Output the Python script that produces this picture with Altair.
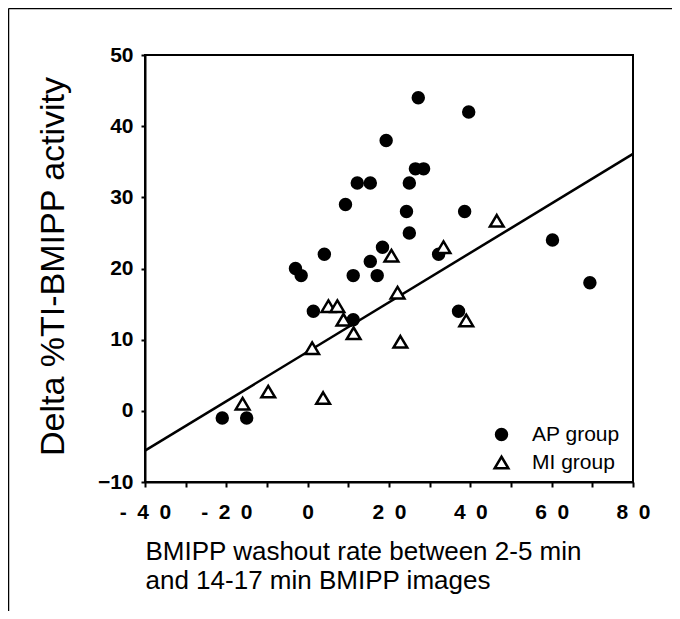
import altair as alt
import pandas as pd

# AP group (filled circles)
ap_x = [-21, -15, -3, -1.6, 4.1, 1.4, 9.3, 12.2, 15.4, 11.2, 15.4, 17.1, 11.2,
        19.3, 18.4, 27.2, 39.6, 26.5, 28.5, 25, 24.3, 38.6, 25, 32.2, 60.2, 69.4, 37.1]
ap_y = [-1, -1, 20, 19, 22, 14, 29, 32, 32, 19, 21, 19, 12.8,
        38, 23, 44, 42, 34, 34, 32, 28, 28, 25, 22, 24, 18, 14]
# MI group (open triangles)
mi_x = [-16, -9.7, 1.1, 3.8, 5.1, 7.3, 8.8, 11.3, 22.1, 22.8, 46.5, 33.4, 20.6, 39]
mi_y = [1, 2.7, 8.8, 1.8, 14.7, 14.7, 12.8, 10.9, 16.6, 9.7, 26.7, 23, 21.8, 12.7]
# regression line end points
fit_x = [-40, 80]
fit_y = [-5.6, 36.1]

groups = ["AP group", "MI group"]
x_ticks = [-40, -30, -20, -10, 0, 10, 20, 30, 40, 50, 60, 70, 80]
y_ticks = [-10, -5, 0, 5, 10, 15, 20, 25, 30, 35, 40, 45, 50]

pts = pd.DataFrame({
    "x": ap_x + mi_x,
    "y": ap_y + mi_y,
    "group": [groups[0]] * len(ap_x) + [groups[1]] * len(mi_x),
})
fit = pd.DataFrame({"x": fit_x, "y": fit_y})

FONT = "Liberation Sans"
TRIANGLE = "M0,-1.05L1.25,1.05L-1.25,1.05Z"
xs = alt.Scale(domain=[-40, 80], nice=False, zero=False)
ys = alt.Scale(domain=[-10, 50], nice=False, zero=False)

x_axis = alt.Axis(
    values=x_ticks,
    labelExpr="datum.value % 20 != 0 ? '' : join(split(toString(datum.value), ''), '\u2002')",
    labelFontSize=21, labelFontWeight="bold", labelPadding=14, tickSize=5,
    labelFlush=False, labelOverlap=False,
    title=["BMIPP washout rate between 2-5 min", "and 14-17 min BMIPP images"],
    titleFontSize=26, titleFontWeight="normal", titleX=0, titleY=77,
    titleAlign="left", titleBaseline="alphabetic", titleLineHeight=29.5,
)
y_axis = alt.Axis(
    values=y_ticks,
    labelExpr="datum.value % 10 != 0 ? '' : datum.label",
    labelFontSize=21, labelFontWeight="bold", labelPadding=8, tickSize=4,
    labelFlush=False, labelOverlap=False,
    title="Delta %TI-BMIPP activity",
    titleFontSize=34, titleFontWeight="normal", titleAngle=270,
    titleX=-82, titleY=211, titleAlign="center", titleBaseline="alphabetic",
)

legend = alt.Legend(
    orient="none", legendX=346, legendY=369, title=None,
    labelFontSize=21, labelFont=FONT, labelColor="black",
    symbolStrokeColor="black", symbolStrokeWidth=2.5, symbolSize=120,
    labelOffset=20, rowPadding=6, padding=0,
)

line = alt.Chart(fit).mark_line(color="black", strokeWidth=2.5).encode(
    x=alt.X("x:Q", scale=xs, axis=x_axis),
    y=alt.Y("y:Q", scale=ys, axis=y_axis),
)

points = alt.Chart(pts).mark_point(filled=True, strokeWidth=2.5,
                                   opacity=1, size=120).encode(
    x=alt.X("x:Q", scale=xs),
    y=alt.Y("y:Q", scale=ys),
    shape=alt.Shape("group:N", scale=alt.Scale(domain=groups, range=["circle", TRIANGLE]), legend=legend),
    fill=alt.Fill("group:N", scale=alt.Scale(domain=groups, range=["black", "white"]), legend=legend),
    stroke=alt.Stroke("group:N", scale=alt.Scale(domain=groups, range=["black", "black"]), legend=legend),
)

frame_df = pd.DataFrame({"k": [0]})
frame_left = alt.Chart(frame_df).mark_rule(color="black", strokeWidth=1.5).encode(
    x=alt.value(-136.5), y=alt.value(-46.5), y2=alt.value(700)
)
frame_top = alt.Chart(frame_df).mark_rule(color="black", strokeWidth=1.5).encode(
    x=alt.value(-136.5), x2=alt.value(700), y=alt.value(-46.5)
)

chart = alt.layer(line, points, frame_left, frame_top).properties(
    width=488, height=427,
    autosize=alt.AutoSizeParams(type="none"),
    padding={"left": 137, "top": 47, "right": 39, "bottom": 129},
).configure(
    font=FONT,
).configure_view(
    stroke="black", strokeWidth=2,
).configure_axis(
    grid=False, domainColor="black", domainWidth=2, tickColor="black", tickWidth=2,
    labelColor="black", titleColor="black", labelFont=FONT, titleFont=FONT,
)

chart.save("out.html", embed_options={"renderer": "svg", "actions": False})
